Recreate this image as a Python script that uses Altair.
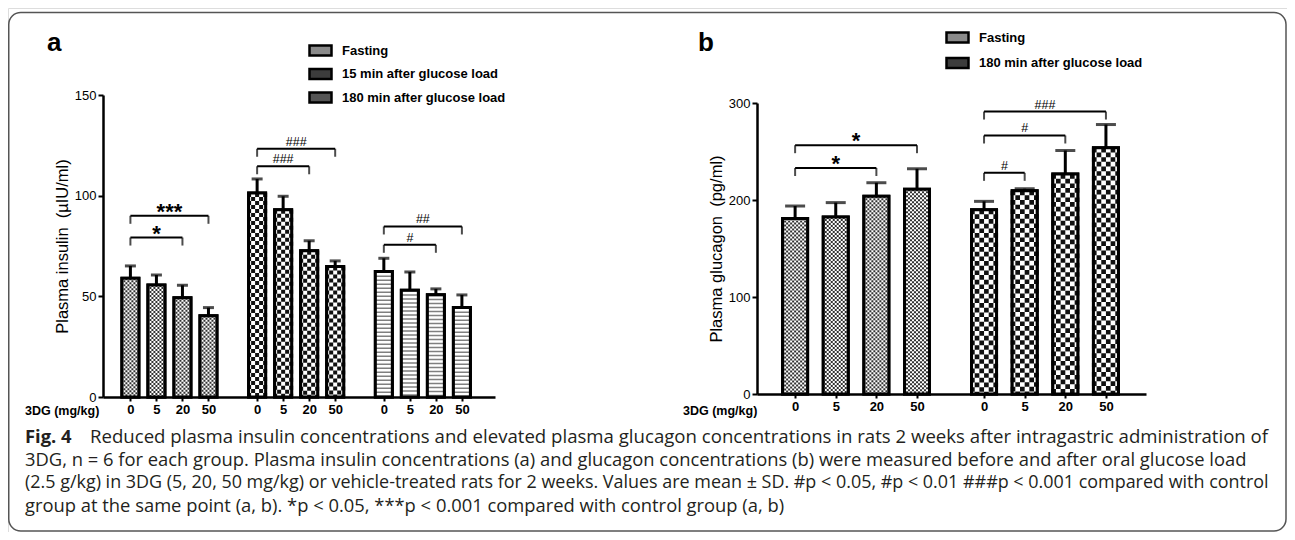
import json
import altair as alt
import pandas as pd

# ---------------- data ----------------
DOSES = ["0", "5", "20", "50"]

PERIODS_A = ["Fasting", "15 min after glucose load", "180 min after glucose load"]
INSULIN_FASTING = [59.0, 55.6, 49.3, 40.4]
INSULIN_FASTING_SD = [6.1, 5.0, 6.2, 4.0]
INSULIN_15 = [101.3, 93.0, 72.6, 64.8]
INSULIN_15_SD = [7.0, 6.7, 5.0, 2.8]
INSULIN_180 = [62.3, 53.0, 50.8, 44.4]
INSULIN_180_SD = [6.6, 9.1, 2.9, 6.3]

PERIODS_B = ["Fasting", "180 min after glucose load"]
GLUCAGON_FASTING = [180.8, 182.5, 203.8, 211.0]
GLUCAGON_FASTING_SD = [13.0, 14.8, 14.0, 21.2]
GLUCAGON_180 = [190.0, 209.6, 226.7, 253.8]
GLUCAGON_180_SD = [8.6, 2.0, 24.3, 24.0]

# significance brackets
SIG_A_GROUP = [0, 0, 1, 1, 2, 2]
SIG_A_FROM = [0, 0, 0, 0, 0, 0]
SIG_A_TO = [2, 3, 2, 3, 2, 3]
SIG_A_LEVEL = [79.2, 90.0, 114.6, 123.3, 75.6, 84.7]
SIG_A_LABEL = ["*", "***", "###", "###", "#", "##"]

SIG_B_GROUP = [0, 0, 1, 1, 1]
SIG_B_FROM = [0, 0, 0, 0, 0]
SIG_B_TO = [2, 3, 1, 2, 3]
SIG_B_LEVEL = [233.0, 256.5, 228.0, 266.5, 291.2]
SIG_B_LABEL = ["*", "*", "#", "#", "###"]

CAPTION_BOLD = "Fig. 4"
CAPTION_LINES = [
    "Reduced plasma insulin concentrations and elevated plasma glucagon concentrations in rats 2 weeks after intragastric administration of",
    "3DG, n = 6 for each group. Plasma insulin concentrations (a) and glucagon concentrations (b) were measured before and after oral glucose load",
    "(2.5 g/kg) in 3DG (5, 20, 50 mg/kg) or vehicle-treated rats for 2 weeks. Values are mean ± SD. #p < 0.05, #p < 0.01 ###p < 0.001 compared with control",
    "group at the same point (a, b). *p < 0.05, ***p < 0.001 compared with control group (a, b)",
]

# ---------------- layout ----------------
W, H = 1279, 524
STRIDE_A, STRIDE_B = 4.87, 4.65
FONT = "Liberation Sans"
NB2 = "\u00a0\u00a0"


def bars_frame(periods, means, sds, stride):
    rows = []
    for g, (p, m, s) in enumerate(zip(periods, means, sds)):
        for i, d in enumerate(DOSES):
            rows.append({"period": p, "dose": d, "slot": g * stride + i,
                         "mean": m[i], "upper": m[i] + s[i]})
    return pd.DataFrame(rows)


def sig_frame(groups, frm, to, level, label, stride):
    df = pd.DataFrame({"g": groups, "f": frm, "t": to, "level": level, "label": label})
    df["x1"] = df.g * stride + df.f
    df["x2"] = df.g * stride + df.t
    df["xm"] = (df.x1 + df.x2) / 2
    return df


bars_a = bars_frame(PERIODS_A, [INSULIN_FASTING, INSULIN_15, INSULIN_180],
                    [INSULIN_FASTING_SD, INSULIN_15_SD, INSULIN_180_SD], STRIDE_A)
bars_b = bars_frame(PERIODS_B, [GLUCAGON_FASTING, GLUCAGON_180],
                    [GLUCAGON_FASTING_SD, GLUCAGON_180_SD], STRIDE_B)
sig_a = sig_frame(SIG_A_GROUP, SIG_A_FROM, SIG_A_TO, SIG_A_LEVEL, SIG_A_LABEL, STRIDE_A)
sig_b = sig_frame(SIG_B_GROUP, SIG_B_FROM, SIG_B_TO, SIG_B_LEVEL, SIG_B_LABEL, STRIDE_B)


def label_expr(stride):
    return (f"{json.dumps(DOSES)}[round(datum.value - floor((datum.value + 0.5) / {stride}) * {stride})]")


def make_panel(bars, sig, periods, fills, patterns, stride, xdom, xrange, ydom, yrange,
               yvalues, ytitle, bar_w, cap_w, legend_xy, row_pad):
    sx = alt.Scale(domain=xdom, range=xrange, nice=False, zero=False)
    sy = alt.Scale(domain=ydom, range=yrange, nice=False)
    ax_x = alt.Axis(orient="bottom", values=sorted(bars["slot"].tolist()), labelExpr=label_expr(stride),
                    offset=-(H - yrange[0]), title=None, grid=False, domainColor="black",
                    domainWidth=2.5, tickColor="black", tickWidth=2, tickSize=4,
                    labelFont=FONT, labelFontSize=13, labelFontWeight="bold", labelColor="black",
                    labelPadding=2, labelOverlap=False, labelFlush=False)
    ax_y = alt.Axis(orient="left", values=yvalues, offset=-xrange[0], title=ytitle, grid=False,
                    domainColor="black", domainWidth=2.5, tickColor="black", tickWidth=2, tickSize=5,
                    labelFont=FONT, labelFontSize=13, labelColor="black", labelPadding=2,
                    titleFont=FONT, titleFontSize=16.5, titleFontWeight="normal", titleColor="black",
                    titlePadding=4)

    def X(f):
        return alt.X(f, type="quantitative", scale=sx, axis=ax_x)

    def Y(f):
        return alt.Y(f, type="quantitative", scale=sy, axis=ax_y)

    base = alt.Chart(bars)
    legend = alt.Legend(orient="none", legendX=legend_xy[0], legendY=legend_xy[1], title=None,
                        symbolType="M-1,-0.45H1V0.45H-1Z", symbolSize=484,
                        symbolStrokeColor="black", symbolStrokeWidth=2.5,
                        labelFont=FONT, labelFontSize=13, labelFontWeight="bold",
                        labelColor="black", labelOffset=9, labelLimit=400,
                        rowPadding=row_pad, padding=0)
    layers = [
        base.mark_bar(size=bar_w, orient="vertical", stroke="black", strokeWidth=3).encode(
            x=X("slot"), y=Y("mean"),
            fill=alt.Fill("period:N", scale=alt.Scale(domain=periods, range=fills), legend=legend)),
        base.mark_rule(strokeWidth=bar_w, color="white").encode(
            x=X("slot"), y=Y("mean"), y2=alt.datum(0)),
    ]
    for p, spec in zip(periods, patterns):
        sub = base.transform_filter(alt.datum.period == p)
        if spec[0] == "checker":
            s, col = spec[1], spec[2]
            n = int(-(-bar_w // s))
            for k in range(n):
                off = -n * s / 2 + s * (k + 0.5)
                layers.append(sub.mark_rule(strokeWidth=s, color=col, strokeDash=[s, s],
                                            strokeDashOffset=(s if k % 2 else 0), xOffset=off)
                              .encode(x=X("slot"), y=Y("mean"), y2=alt.datum(0)))
        else:
            thick, gap, col = spec[1], spec[2], spec[3]
            layers.append(sub.mark_rule(strokeWidth=bar_w, color=col, strokeDash=[thick, gap])
                          .encode(x=X("slot"), y=Y("mean"), y2=alt.datum(0)))
    layers += [
        base.mark_bar(size=bar_w, orient="vertical", fillOpacity=0, stroke="black", strokeWidth=3)
        .encode(x=X("slot"), y=Y("mean")),
        base.mark_rule(strokeWidth=3, color="black").encode(x=X("slot"), y=Y("mean"), y2="upper"),
        base.mark_tick(orient="horizontal", size=cap_w, thickness=3, color="black")
        .encode(x=X("slot"), y=Y("upper")),
    ]
    sb = alt.Chart(sig)
    layers += [
        sb.mark_rule(strokeWidth=2, color="black").encode(x=X("x1"), x2="x2", y=Y("level")),
        sb.mark_tick(orient="vertical", size=8, thickness=2, yOffset=4, color="black")
        .encode(x=X("x1"), y=Y("level")),
        sb.mark_tick(orient="vertical", size=8, thickness=2, yOffset=4, color="black")
        .encode(x=X("x2"), y=Y("level")),
        sb.transform_filter("indexof(datum.label, '*') >= 0")
        .mark_text(font=FONT, fontSize=22, fontWeight="bold", baseline="alphabetic", dy=3, color="black")
        .encode(x=X("xm"), y=Y("level"), text="label"),
        sb.transform_filter("indexof(datum.label, '#') >= 0")
        .mark_text(font=FONT, fontSize=12.5, baseline="alphabetic", dy=-3, color="black")
        .encode(x=X("xm"), y=Y("level"), text="label"),
    ]
    return alt.layer(*layers)


panel_a = make_panel(bars_a, sig_a, PERIODS_A, ["#8a8a8a", "#3c3c3c", "#555555"],
                     [("checker", 2, "#333"), ("checker", 4, "#111"), ("stripes", 1.5, 2.5, "#808080")],
                     STRIDE_A, [-0.861, 13.82], [95, 487], [0, 150], [389, 87], [0, 50, 100, 150],
                     "Plasma insulin" + NB2 + "(µIU/ml)", 17, 11, (300, 30), 0.5)
panel_b = make_panel(bars_b, sig_b, PERIODS_B, ["#8a8a8a", "#3c3c3c"],
                     [("checker", 2, "#333"), ("checker", 4.67, "#111")],
                     STRIDE_B, [-0.815, 8.513], [749, 1138], [0, 300], [386, 95], [0, 100, 200, 300],
                     "Plasma glucagon" + NB2 + "(pg/ml)", 25, 20, (937, 17), 2.5)

one = alt.Data(values=[{}])


def txt(t, x, y, **kw):
    return alt.Chart(one).mark_text(text=t, **kw).encode(x=alt.value(x), y=alt.value(y))


border = alt.Chart(one).mark_rect(cornerRadius=12, fillOpacity=0, stroke="#555555", strokeWidth=1.5).encode(
    x=alt.value(0.75), x2=alt.value(1278), y=alt.value(4.5), y2=alt.value(523))

annots = [
    border,
    txt("a", 39, 43, font=FONT, fontSize=26, fontWeight="bold", align="left", baseline="alphabetic", color="black"),
    txt("b", 690, 43, font=FONT, fontSize=26, fontWeight="bold", align="left", baseline="alphabetic", color="black"),
    txt("3DG (mg/kg)", 17, 403, font=FONT, fontSize=12.5, fontWeight="bold", align="left", baseline="middle", color="black"),
    txt("3DG (mg/kg)", 675, 403, font=FONT, fontSize=12.5, fontWeight="bold", align="left", baseline="middle", color="black"),
]
CAP_FONT = "Open Sans"
CAP_SIZES = [18.63, 18.38, 17.95, 18.38]
CAP_Y = [428.5, 451.5, 474.5, 497.5]
annots.append(txt(CAPTION_BOLD, 17, CAP_Y[0], font=CAP_FONT, fontSize=18.4, fontWeight="bold",
                  align="left", baseline="middle", color="#231f20"))
annots.append(txt(CAPTION_LINES[0], 82, CAP_Y[0], font=CAP_FONT, fontSize=CAP_SIZES[0],
                  align="left", baseline="middle", color="#231f20"))
for line, y, fs in zip(CAPTION_LINES[1:], CAP_Y[1:], CAP_SIZES[1:]):
    annots.append(txt(line, 17, y, font=CAP_FONT, fontSize=fs, align="left",
                      baseline="middle", color="#231f20"))

chart = alt.layer(panel_a, panel_b, *annots).resolve_scale(
    x="independent", y="independent", fill="independent"
).properties(
    width=W, height=H, autosize=alt.AutoSizeParams(type="none"), padding=0
).configure_view(stroke=None).configure(background="white")

chart.save("out.html", embed_options={"renderer": "svg", "actions": False})
